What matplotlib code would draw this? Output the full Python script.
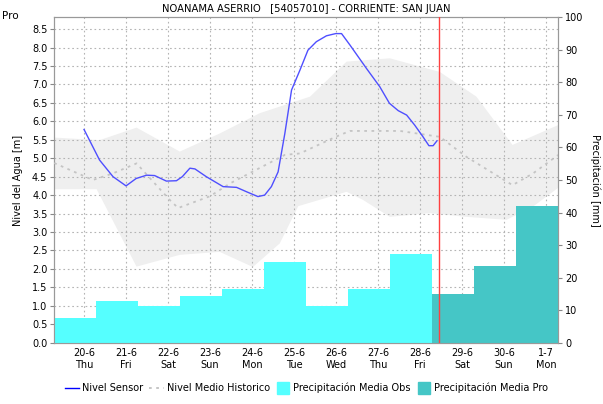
import matplotlib
matplotlib.use("Agg")
import matplotlib.pyplot as plt
from matplotlib.lines import Line2D

# days counted from 20-6 00:00, the hydrological day starts at 07:00
day_labels = ["20-6\nThu", "21-6\nFri", "22-6\nSat", "23-6\nSun", "24-6\nMon", "25-6\nTue",
              "26-6\nWed", "27-6\nThu", "28-6\nFri", "29-6\nSat", "30-6\nSun", "1-7\nMon"]

# precipitation [mm], one value per day (07:00 -> 07:00)
obs_mm = [7.5, 12.9, 11.4, 14.2, 16.4, 24.7, 11.1, 16.4, 27.2]
pro_mm = [14.8, 23.7, 42.1]

# water level from sensor [m]
sensor_d = [0.0, 0.37, 0.69, 1.0, 1.24, 1.49, 1.68, 1.96, 2.2, 2.34, 2.52, 2.64, 2.91, 3.31, 3.63,
            3.87, 4.14, 4.3, 4.46, 4.62, 4.78, 4.94, 5.14, 5.33, 5.53, 5.77, 5.99, 6.13, 6.33,
            6.72, 7.04, 7.27, 7.48, 7.68, 7.87, 8.07, 8.21, 8.31, 8.4]
sensor_v = [5.78, 4.95, 4.5, 4.25, 4.45, 4.54, 4.53, 4.38, 4.39, 4.5, 4.73, 4.71, 4.5, 4.23, 4.21,
            4.09, 3.96, 4.0, 4.23, 4.63, 5.67, 6.85, 7.39, 7.93, 8.16, 8.32, 8.38, 8.38, 8.07,
            7.44, 6.94, 6.49, 6.29, 6.17, 5.9, 5.58, 5.34, 5.34, 5.47]

# historical mean level [m]
hist_d = [-0.71, 0.21, 0.69, 1.25, 2.04, 2.24, 3.0, 3.48, 4.78, 5.14, 5.99, 6.33, 7.52, 8.47,
          9.1, 10.2, 10.69, 11.29]
hist_v = [4.87, 4.41, 4.59, 4.86, 3.87, 3.65, 3.97, 4.32, 5.09, 5.13, 5.58, 5.74, 5.74, 5.58,
          5.04, 4.27, 4.59, 5.09]

# historical range band [m]
up_d = [-0.71, 0.37, 1.25, 2.28, 3.23, 4.18, 5.14, 5.38, 6.25, 7.28, 8.47, 9.34, 10.2, 11.29]
up_v = [5.56, 5.49, 5.83, 5.18, 5.67, 6.22, 6.58, 6.67, 7.62, 7.71, 7.34, 6.67, 5.36, 5.9]
low_d = [-0.71, 0.3, 1.25, 2.28, 3.23, 4.02, 4.66, 5.1, 6.25, 6.64, 7.28, 8.23, 9.1, 10.06,
         10.69, 11.29]
low_v = [4.16, 4.16, 2.06, 2.38, 2.46, 2.05, 2.69, 3.7, 4.09, 3.87, 3.41, 3.51, 3.41, 3.33,
         3.69, 4.2]

now_d = 8.45
start = -17 / 24.0

plt.rcParams['font.family'] = ['DejaVu Sans']
fig = plt.figure(figsize=(6.03, 4.04), dpi=100)
ax = fig.add_axes([0.090, 0.152, 0.836, 0.805])

# band + grid at the bottom
ax.fill(up_d + low_d[::-1], up_v + low_v[::-1], color="#efefef", lw=0, zorder=1)
ax.set_xlim(start, start + 12)
ax.set_ylim(0, 8.82)
ax.set_yticks([i * 0.5 for i in range(18)])
ax.set_yticklabels(["%.1f" % (i * 0.5) for i in range(18)])
ax.set_xticks(range(12))
ax.set_xticklabels(day_labels)
ax.grid(True, color="#b4b4b4", linestyle=(0, (1.5, 2.5)), linewidth=0.8)
ax.set_axisbelow(False)
ax.tick_params(axis="y", labelsize=7, length=3, color="#888888", pad=2)
ax.tick_params(axis="x", labelsize=7, length=0, pad=4)
ax.set_ylabel("Nivel del Agua [m]", fontsize=7, labelpad=6)
for s in ax.spines.values():
    s.set_color("#999999")
ax.set_title("NOANAMA ASERRIO   [54057010] - CORRIENTE: SAN JUAN", fontsize=7.2, pad=4)

# precipitation bars
ax2 = ax.twinx()
obs_x = [start + k + 0.5 for k in range(len(obs_mm))]
pro_x = [start + len(obs_mm) + k + 0.5 for k in range(len(pro_mm))]
ax2.bar(obs_x, obs_mm, width=1.0, color="#55ffff", lw=0, zorder=2)
ax2.bar(pro_x, pro_mm, width=1.0, color="#45c6c6", lw=0, zorder=2)
ax2.set_ylim(0, 100)
ax2.set_yticks(range(0, 101, 10))
ax2.tick_params(axis="y", labelsize=7, length=3, color="#888888", pad=2)
ax2.set_ylabel("Precipitación [mm]", fontsize=7, rotation=270, labelpad=12)
for s in ax2.spines.values():
    s.set_color("#999999")

# level lines on top
ax3 = ax.twinx()
ax3.set_ylim(ax.get_ylim())
ax3.set_xlim(ax.get_xlim())
ax3.axis("off")
ax3.plot(hist_d, hist_v, color="#c4c4c4", lw=1.3, linestyle=(0, (1.5, 2.5)))
ax3.plot(sensor_d, sensor_v, color="#4f4fff", lw=1.0)
ax3.axvline(now_d, color="#ff4040", lw=1.0)

fig.text(0.004, 0.952, "Pro", fontsize=7.5)

handles = [Line2D([], [], color="#0000ff", lw=1.0),
           Line2D([], [], color="#c0c0c0", lw=1.3, linestyle=(0, (1.5, 2.5))),
           Line2D([], [], color="#55ffff", marker="s", markersize=8, linestyle="none"),
           Line2D([], [], color="#45c6c6", marker="s", markersize=8, linestyle="none")]
labels = ["Nivel Sensor", "Nivel Medio Historico", "Precipitación Media Obs", "Precipitación Media Pro"]
fig.legend(handles, labels, loc="center", bbox_to_anchor=(0.508, 0.04), ncol=4, frameon=False,
           fontsize=7, handlelength=1.5, handletextpad=0.3, columnspacing=0.6)

fig.savefig("out.png", dpi=100)
